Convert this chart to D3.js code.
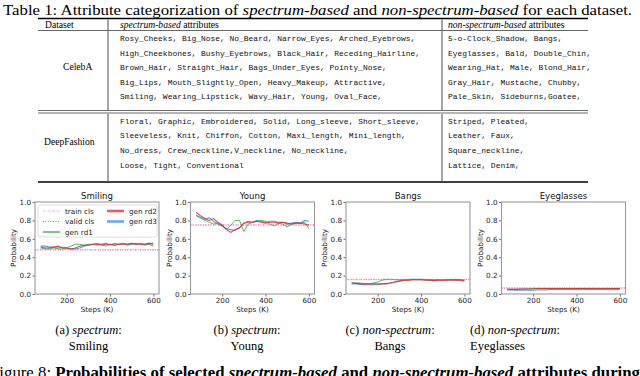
<!DOCTYPE html>
<html><head><meta charset="utf-8">
<script src="https://cdn.jsdelivr.net/npm/d3@7"></script>
<style>body{margin:0;background:#fff}svg{display:block}</style>
</head><body>
<svg id="c" width="640" height="376"></svg>
<script>
// ---------- DATA ----------
const celebaSpectrum = [
  "Rosy_Cheeks, Big_Nose, No_Beard, Narrow_Eyes, Arched_Eyebrows,",
  "High_Cheekbones, Bushy_Eyebrows, Black_Hair, Receding_Hairline,",
  "Brown_Hair, Straight_Hair, Bags_Under_Eyes, Pointy_Nose,",
  "Big_Lips, Mouth_Slightly_Open, Heavy_Makeup, Attractive,",
  "Smiling, Wearing_Lipstick, Wavy_Hair, Young, Oval_Face,"
];
const celebaNonSpectrum = [
  "5-o-Clock_Shadow, Bangs,",
  "Eyeglasses, Bald, Double_Chin,",
  "Wearing_Hat, Male, Blond_Hair,",
  "Gray_Hair, Mustache, Chubby,",
  "Pale_Skin, Sideburns,Goatee,"
];
const fashionSpectrum = [
  "Floral, Graphic, Embroidered, Solid, Long_sleeve, Short_sleeve,",
  "Sleeveless, Knit, Chiffon, Cotton, Maxi_length, Mini_length,",
  "No_dress, Crew_neckline,V_neckline, No_neckline,",
  "Loose, Tight, Conventional"
];
const fashionNonSpectrum = [
  "Striped, Pleated,",
  "Leather, Faux,",
  "Square_neckline,",
  "Lattice, Denim,"
];
const steps = [80,100,120,140,160,180,200,220,240,260,280,300,320,340,360,380,400,420,440,460,480,500,520,540,560,580,600];
const chartTitles = ["Smiling","Young","Bangs","Eyeglasses"];
const trainCls = [0.48, 0.75, 0.16, 0.065];
const validCls = [0.48, 0.75, 0.155, 0.065];
const genRd1 = [
  [0.50,0.49,0.49,0.50,0.49,0.49,0.50,0.52,0.54,0.54,0.53,0.54,0.54,0.55,0.54,0.52,0.54,0.53,0.54,0.55,0.53,0.54,0.55,0.54,0.53,0.54,0.52],
  [0.85,0.83,0.80,0.78,0.76,0.77,0.74,0.70,0.75,0.80,0.80,0.68,0.76,0.78,0.79,0.80,0.79,0.76,0.74,0.77,0.76,0.73,0.76,0.77,0.77,0.78,0.71],
  [0.12,0.12,0.12,0.11,0.11,0.12,0.13,0.15,0.16,0.16,0.155,0.155,0.155,0.15,0.155,0.155,0.155,0.155,0.15,0.15,0.15,0.155,0.155,0.15,0.15,0.155,0.15],
  [0.05,0.05,0.05,0.05,0.055,0.055,0.06,0.06,0.06,0.06,0.06,0.06,0.06,0.06,0.06,0.06,0.06,0.06,0.06,0.06,0.06,0.06,0.06,0.06,0.06,0.06,0.06]
];
const genRd2 = [
  [0.51,0.50,0.50,0.51,0.52,0.50,0.50,0.49,0.50,0.52,0.53,0.53,0.54,0.54,0.53,0.54,0.54,0.53,0.54,0.54,0.54,0.55,0.54,0.54,0.54,0.55,0.54],
  [0.89,0.85,0.82,0.80,0.82,0.78,0.75,0.70,0.67,0.70,0.72,0.77,0.78,0.78,0.79,0.78,0.77,0.78,0.78,0.77,0.78,0.77,0.76,0.77,0.77,0.76,0.75],
  [0.12,0.115,0.11,0.11,0.11,0.11,0.11,0.11,0.11,0.12,0.13,0.14,0.15,0.15,0.155,0.155,0.155,0.15,0.15,0.145,0.15,0.15,0.15,0.155,0.15,0.15,0.14],
  [0.05,0.05,0.05,0.055,0.055,0.055,0.055,0.06,0.06,0.06,0.06,0.06,0.06,0.06,0.06,0.06,0.06,0.06,0.06,0.06,0.06,0.06,0.06,0.06,0.06,0.06,0.06]
];
const genRd3 = [
  [0.52,0.52,0.51,0.51,0.50,0.51,0.50,0.49,0.49,0.50,0.52,0.53,0.54,0.53,0.54,0.55,0.53,0.55,0.54,0.55,0.54,0.55,0.54,0.55,0.54,0.55,0.55],
  [0.86,0.83,0.81,0.83,0.79,0.76,0.74,0.71,0.70,0.69,0.72,0.77,0.79,0.78,0.80,0.79,0.78,0.79,0.79,0.78,0.78,0.76,0.77,0.78,0.77,0.80,0.79],
  [0.11,0.11,0.105,0.10,0.10,0.10,0.10,0.11,0.115,0.12,0.13,0.14,0.15,0.155,0.16,0.16,0.16,0.155,0.155,0.155,0.155,0.15,0.155,0.155,0.16,0.155,0.15],
  [0.045,0.045,0.04,0.04,0.04,0.04,0.04,0.045,0.045,0.045,0.05,0.05,0.05,0.05,0.05,0.05,0.05,0.05,0.05,0.05,0.05,0.05,0.05,0.05,0.05,0.05,0.05]
];
const yTicks = [0,0.2,0.4,0.6,0.8,1.0];
const xTicks = [200,400,600];
const captionTop = [["(a) ","spectrum",":"],["(b) ","spectrum",":"],["(c) ","non-spectrum",":"],["(d) ","non-spectrum",":"]];
const captionBottom = ["Smiling","Young","Bangs","Eyeglasses"];

// ---------- DRAW ----------
const svg = d3.select("#c");
const serif = "'Liberation Serif','Times New Roman',serif";
const mono = "'Liberation Mono','DejaVu Sans Mono',monospace";
const sans = "'DejaVu Sans',sans-serif";

// Table title
const tt = svg.append("text").attr("x",3).attr("y",14.5).attr("font-family",serif).attr("font-size",15.5)
  .attr("textLength",629).attr("lengthAdjust","spacingAndGlyphs");
tt.append("tspan").text("Table 1: Attribute categorization of ");
tt.append("tspan").attr("font-style","italic").text("spectrum-based");
tt.append("tspan").text(" and ");
tt.append("tspan").attr("font-style","italic").text("non-spectrum-based");
tt.append("tspan").text(" for each dataset.");

const tL = 38, tR = 588, c1 = 108, c2 = 442;
function hline(y, w, col){ svg.append("line").attr("x1",tL).attr("x2",tR).attr("y1",y).attr("y2",y).attr("stroke",col||"#000").attr("stroke-width",w); }
function vline(x, y1, y2){ svg.append("line").attr("x1",x).attr("x2",x).attr("y1",y1).attr("y2",y2).attr("stroke","#000").attr("stroke-width",0.7); }
hline(18.5,1.5); hline(30.5,0.6); hline(110.5,0.8,"#444"); hline(113,0.8,"#444"); hline(182,1.5);
vline(c1,19.5,30); vline(c2,19.5,30);
vline(c1,31,110); vline(c2,31,110);
vline(c1,114,181); vline(c2,114,181);

svg.append("text").attr("x",45).attr("y",27.5).attr("font-family",serif).attr("font-size",9.6).text("Dataset");
const h1 = svg.append("text").attr("x",120).attr("y",27.5).attr("font-family",serif).attr("font-size",9.6);
h1.append("tspan").attr("font-style","italic").text("spectrum-based"); h1.append("tspan").text(" attributes");
const h2 = svg.append("text").attr("x",448).attr("y",27.5).attr("font-family",serif).attr("font-size",9.6);
h2.append("tspan").attr("font-style","italic").text("non-spectrum-based"); h2.append("tspan").text(" attributes");

function block(lines, x, y0, dy){
  lines.forEach((s,i)=>svg.append("text").attr("x",x).attr("y",y0+i*dy).attr("font-family",mono).attr("font-size",7.95).attr("fill","#111").text(s));
}
block(celebaSpectrum,120,41,14.6);
block(celebaNonSpectrum,448,41,14.6);
block(fashionSpectrum,120,123.5,14.8);
block(fashionNonSpectrum,448,123.5,14.8);
svg.append("text").attr("x",63).attr("y",70).attr("font-family",serif).attr("font-size",9.6).text("CelebA");
svg.append("text").attr("x",44).attr("y",145).attr("font-family",serif).attr("font-size",9.6).text("DeepFashion");

// Charts
const cw = 124, ch = 92, chartTop = 202;
const lefts = [35,190.5,346,501.5];
const colors = {rd1:"#3fb33f", rd2:"#e82626", rd3:"#3b8ede", train:"#f5b3dc", valid:"#e06ac0"};

lefts.forEach((L,i)=>{
  const g = svg.append("g").attr("transform",`translate(${L},${chartTop})`);
  const x = d3.scaleLinear().domain([54,626]).range([0,cw]);
  const y = d3.scaleLinear().domain([0,1]).range([ch,0]);
  const line = d3.line().x((d,j)=>x(steps[j])).y(d=>y(d));
  const clip = "clip"+i;
  g.append("clipPath").attr("id",clip).append("rect").attr("width",cw).attr("height",ch);
  const pg = g.append("g").attr("clip-path",`url(#${clip})`);
  pg.append("line").attr("x1",0).attr("x2",cw).attr("y1",y(trainCls[i])).attr("y2",y(trainCls[i]))
    .attr("stroke",colors.train).attr("stroke-width",1).attr("stroke-dasharray","3,1.5");
  pg.append("line").attr("x1",0).attr("x2",cw).attr("y1",y(validCls[i])).attr("y2",y(validCls[i]))
    .attr("stroke",colors.valid).attr("stroke-width",1).attr("stroke-dasharray","1,1.5");
  pg.append("path").datum(genRd1[i]).attr("d",line).attr("fill","none").attr("stroke",colors.rd1).attr("stroke-width",1).attr("opacity",0.9);
  pg.append("path").datum(genRd3[i]).attr("d",line).attr("fill","none").attr("stroke",colors.rd3).attr("stroke-width",1.1).attr("opacity",0.85);
  pg.append("path").datum(genRd2[i]).attr("d",line).attr("fill","none").attr("stroke",colors.rd2).attr("stroke-width",1.1).attr("opacity",0.85);

  const ya = g.append("g").call(d3.axisLeft(y).tickValues(yTicks).tickFormat(d3.format(".1f")).tickSize(2.5).tickPadding(1.5));
  const xa = g.append("g").attr("transform",`translate(0,${ch})`).call(d3.axisBottom(x).tickValues(xTicks).tickSize(2.5).tickPadding(1));
  [ya,xa].forEach(a=>{ a.select(".domain").remove(); a.selectAll("text").attr("font-family",sans).attr("font-size",7.2).attr("fill","#222"); a.selectAll("line").attr("stroke","#333").attr("stroke-width",0.7); });
  g.append("rect").attr("width",cw).attr("height",ch).attr("fill","none").attr("stroke","#9a9a9a").attr("stroke-width",1.1);

  g.append("text").attr("x",cw/2).attr("y",-3).attr("text-anchor","middle").attr("font-family",sans).attr("font-size",8.6).attr("fill","#111").text(chartTitles[i]);
  g.append("text").attr("x",cw/2).attr("y",ch+17.5).attr("text-anchor","middle").attr("font-family",sans).attr("font-size",7.2).attr("fill","#222").text("Steps (K)");
  g.append("text").attr("transform",`translate(-19,${ch/2}) rotate(-90)`).attr("text-anchor","middle").attr("font-family",sans).attr("font-size",7.2).attr("fill","#222").text("Probability");

  if(i===0){
    const lg = g.append("g").attr("transform","translate(3,3)");
    lg.append("rect").attr("width",119).attr("height",32).attr("rx",2).attr("fill","#fff").attr("fill-opacity",0.85).attr("stroke","#d8d8d8").attr("stroke-width",0.8);
    const items = [
      {t:"train cls",c:colors.train,dash:"3,1.5",w:1,x:5,y:6},
      {t:"valid cls",c:colors.valid,dash:"1,1.5",w:1,x:5,y:16.5},
      {t:"gen rd1",c:colors.rd1,dash:null,w:1.4,x:5,y:27},
      {t:"gen rd2",c:colors.rd2,dash:null,w:2.6,x:69,y:6},
      {t:"gen rd3",c:colors.rd3,dash:null,w:2.6,x:69,y:16.5}
    ];
    items.forEach(it=>{
      lg.append("line").attr("x1",it.x).attr("x2",it.x+17).attr("y1",it.y).attr("y2",it.y).attr("stroke",it.c).attr("stroke-width",it.w).attr("stroke-dasharray",it.dash).attr("opacity",it.w>2?0.75:1);
      lg.append("text").attr("x",it.x+22).attr("y",it.y+2.6).attr("font-family",sans).attr("font-size",7.2).attr("fill","#222").text(it.t);
    });
  }
});

// Sub-captions
const capCenters = [88.5, 247, 390, null];
captionTop.forEach((p,i)=>{
  const t = svg.append("text").attr("y",334).attr("font-family",serif).attr("font-size",12.5);
  if(i<3) t.attr("x",capCenters[i]).attr("text-anchor","middle"); else t.attr("x",470);
  t.append("tspan").text(p[0]); t.append("tspan").attr("font-style","italic").text(p[1]); t.append("tspan").text(p[2]);
  const b = svg.append("text").attr("y",350).attr("font-family",serif).attr("font-size",12.5).text(captionBottom[i]);
  if(i<3) b.attr("x",capCenters[i]).attr("text-anchor","middle"); else b.attr("x",470);
});

// Figure caption (cut off at the bottom and right edge, as in the reference)
const fc = svg.append("text").attr("x",-10).attr("y",377.5).attr("font-family",serif).attr("font-size",16.8);
fc.append("tspan").text("Figure 8: ");
fc.append("tspan").attr("font-weight","bold").text("Probabilities of selected ");
fc.append("tspan").attr("font-weight","bold").attr("font-style","italic").text("spectrum-based");
fc.append("tspan").attr("font-weight","bold").text(" and ");
fc.append("tspan").attr("font-weight","bold").attr("font-style","italic").text("non-spectrum-based");
fc.append("tspan").attr("font-weight","bold").text(" attributes during");
</script>
</body></html>
